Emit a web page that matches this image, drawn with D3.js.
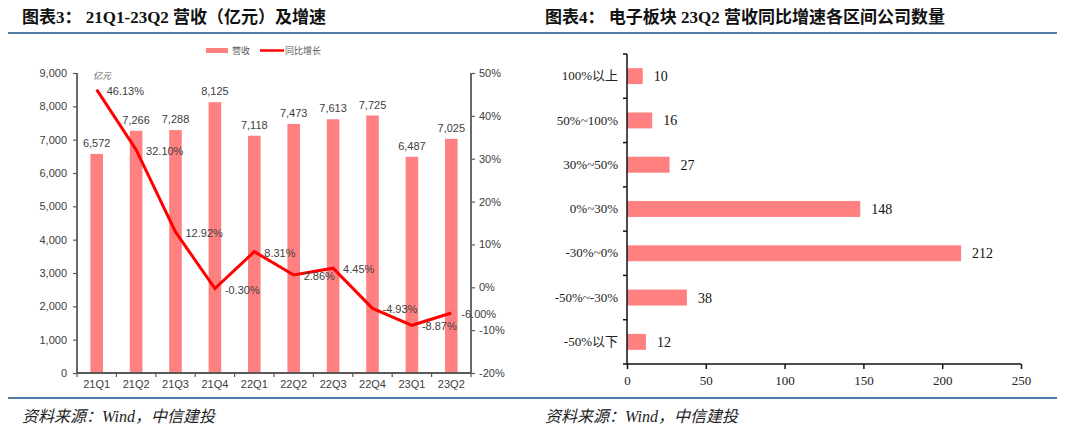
<!DOCTYPE html>
<html><head><meta charset="utf-8">
<script src="https://cdn.jsdelivr.net/npm/d3@7"></script>
<style>
body{margin:0;background:#fff;}
svg{display:block;}
</style></head>
<body>
<svg id="c" width="1080" height="433"></svg>
<script>
// ---- data ----
const quarters = ["21Q1","21Q2","21Q3","21Q4","22Q1","22Q2","22Q3","22Q4","23Q1","23Q2"];
const revenue = [6572,7266,7288,8125,7118,7473,7613,7725,6487,7025];
const growth = [46.13,32.10,12.92,-0.30,8.31,2.86,4.45,-4.93,-8.87,-6.00];
const leftTicks = [0,1000,2000,3000,4000,5000,6000,7000,8000,9000];
const rightTicks = [-20,-10,0,10,20,30,40,50];
const ranges = ["100%以上","50%~100%","30%~50%","0%~30%","-30%~0%","-50%~-30%","-50%以下"];
const counts = [10,16,27,148,212,38,12];
const countTicks = [0,50,100,150,200,250];

const svg = d3.select("#c");
const sans = "'Liberation Sans', Arial, 'Noto Sans CJK SC', sans-serif";
const serif = "'Liberation Serif', 'Times New Roman', 'Noto Sans CJK SC', serif";
const barColor = "#ff8080";
const axisColor = "#595959";
const textColor = "#404040";
const ruleColor = "#4f7ea6";

// ---- titles & rules ----
svg.append("text").attr("x",22).attr("y",23).attr("font-family",serif).attr("font-weight","bold")
  .attr("font-size",17).attr("fill","#111").text("图表3： 21Q1-23Q2 营收（亿元）及增速");
svg.append("text").attr("x",545).attr("y",23).attr("font-family",serif).attr("font-weight","bold")
  .attr("font-size",17).attr("fill","#111").text("图表4： 电子板块 23Q2 营收同比增速各区间公司数量");
svg.append("line").attr("x1",8).attr("x2",1057).attr("y1",33).attr("y2",33).attr("stroke",ruleColor).attr("stroke-width",2);
svg.append("line").attr("x1",8).attr("x2",1057).attr("y1",398).attr("y2",398).attr("stroke",ruleColor).attr("stroke-width",2);
svg.append("text").attr("x",22).attr("y",422).attr("font-family",serif).attr("font-style","italic")
  .attr("font-size",16).attr("fill","#222").text("资料来源：Wind，中信建投");
svg.append("text").attr("x",545).attr("y",422).attr("font-family",serif).attr("font-style","italic")
  .attr("font-size",16).attr("fill","#222").text("资料来源：Wind，中信建投");

// ---- left chart ----
const L = {x0:77, x1:471, yTop:73, yBot:373};
const x = d3.scaleBand().domain(quarters).range([L.x0,L.x1]).paddingInner(0.68).paddingOuter(0.34);
const yL = d3.scaleLinear().domain([0,9000]).range([L.yBot,L.yTop]);
const yR = d3.scaleLinear().domain([-20,50]).range([L.yBot,L.yTop]);

const g = svg.append("g");
g.selectAll("rect.bar").data(revenue).join("rect").attr("class","bar")
  .attr("x",(d,i)=>x(quarters[i])).attr("width",x.bandwidth())
  .attr("y",d=>yL(d)).attr("height",d=>yL(0)-yL(d)).attr("fill",barColor);
g.selectAll("text.bv").data(revenue).join("text").attr("class","bv")
  .attr("x",(d,i)=>x(quarters[i])+x.bandwidth()/2).attr("y",d=>yL(d)-7)
  .attr("text-anchor","middle").attr("font-family",sans).attr("font-size",11).attr("fill",textColor)
  .text(d=>d3.format(",")(d));

// axes
const axL = d3.axisLeft(yL).tickValues(leftTicks).tickFormat(d3.format(",")).tickSize(4).tickPadding(6);
const gL = svg.append("g").attr("transform",`translate(${L.x0},0)`).call(axL);
const axR = d3.axisRight(yR).tickValues(rightTicks).tickFormat(d=>d+"%").tickSize(4).tickPadding(4);
const gR = svg.append("g").attr("transform",`translate(${L.x1},0)`).call(axR);
const xb = d3.scaleLinear().domain([0,quarters.length]).range([L.x0,L.x1]);
const axB = d3.axisBottom(x).tickSize(0).tickPadding(7);
const gB = svg.append("g").attr("transform",`translate(0,${L.yBot})`).call(axB);
gB.selectAll(".tick.b").data(d3.range(quarters.length+1)).join("line")
  .attr("x1",d=>xb(d)).attr("x2",d=>xb(d)).attr("y1",0).attr("y2",4).attr("stroke",axisColor).attr("stroke-width",1.2);
[gL,gR,gB].forEach(a=>{
  a.select(".domain").attr("stroke",axisColor).attr("stroke-width",1.8);
  a.selectAll(".tick line").attr("stroke",axisColor).attr("stroke-width",1.2);
  a.selectAll(".tick text").attr("font-family",sans).attr("font-size",11).attr("fill",textColor);
});
gL.select(".domain").attr("d",`M0,${L.yTop}V${L.yBot}`);
gR.select(".domain").attr("d",`M0,${L.yTop}V${L.yBot}`);
gB.select(".domain").attr("d",`M${L.x0},0H${L.x1}`);

// line
const line = d3.line().x((d,i)=>x(quarters[i])+x.bandwidth()/2).y(d=>yR(d));
svg.append("path").datum(growth).attr("d",line).attr("fill","none").attr("stroke","#ff0000")
  .attr("stroke-width",3).attr("stroke-linejoin","miter");
svg.selectAll("text.gv").data(growth).join("text").attr("class","gv")
  .attr("x",(d,i)=>x(quarters[i])+x.bandwidth()/2+10).attr("y",d=>yR(d)+5)
  .attr("font-family",sans).attr("font-size",11).attr("fill",textColor)
  .text(d=>d.toFixed(2)+"%");

svg.append("text").attr("x",93).attr("y",79).attr("font-family",sans).attr("font-style","italic")
  .attr("font-size",9).attr("fill","#595959").text("亿元");

// legend
svg.append("rect").attr("x",206).attr("y",48).attr("width",22).attr("height",5).attr("fill",barColor);
svg.append("text").attr("x",232).attr("y",54).attr("font-family",sans).attr("font-size",9).attr("fill","#595959").text("营收");
svg.append("line").attr("x1",260).attr("x2",284).attr("y1",50.5).attr("y2",50.5).attr("stroke","#ff0000").attr("stroke-width",2.5);
svg.append("text").attr("x",285).attr("y",54).attr("font-family",sans).attr("font-size",9).attr("fill","#595959").text("同比增长");

// ---- right chart ----
const R = {x0:627, x1:1021, yTop:54, yBot:364};
const xc = d3.scaleLinear().domain([0,250]).range([R.x0,R.x1]);
const yc = d3.scaleBand().domain(ranges).range([R.yTop,R.yBot]).paddingInner(0.64).paddingOuter(0.32);
svg.selectAll("rect.hb").data(counts).join("rect").attr("class","hb")
  .attr("x",xc(0)).attr("y",(d,i)=>yc(ranges[i])).attr("height",yc.bandwidth())
  .attr("width",d=>xc(d)-xc(0)).attr("fill",barColor);
svg.selectAll("text.hv").data(counts).join("text").attr("class","hv")
  .attr("x",d=>xc(d)+11).attr("y",(d,i)=>yc(ranges[i])+yc.bandwidth()/2+5)
  .attr("font-family",serif).attr("font-size",14).attr("fill","#111").text(d=>d);

const axY = d3.axisLeft(yc).tickSize(0).tickPadding(9);
const gY = svg.append("g").attr("transform",`translate(${R.x0},0)`).call(axY);
const yb = d3.scaleLinear().domain([0,ranges.length]).range([R.yTop,R.yBot]);
gY.selectAll("line.bt").data(d3.range(ranges.length+1)).join("line").attr("class","bt")
  .attr("x1",0).attr("x2",-4).attr("y1",d=>yb(d)).attr("y2",d=>yb(d)).attr("stroke","#111").attr("stroke-width",1.5);
const axX = d3.axisBottom(xc).tickValues(countTicks).tickSize(5).tickPadding(7);
const gX = svg.append("g").attr("transform",`translate(0,${R.yBot})`).call(axX);
[gY,gX].forEach(a=>{
  a.select(".domain").attr("stroke","#111").attr("stroke-width",1.5);
  a.selectAll(".tick line").attr("stroke","#111").attr("stroke-width",1.5);
  a.selectAll(".tick text").attr("font-family",serif).attr("font-size",13).attr("fill","#222");
});
gY.select(".domain").attr("d",`M0,${R.yTop}V${R.yBot}`);
gX.select(".domain").attr("d",`M${R.x0},0H${R.x1}`);
</script>
</body></html>
